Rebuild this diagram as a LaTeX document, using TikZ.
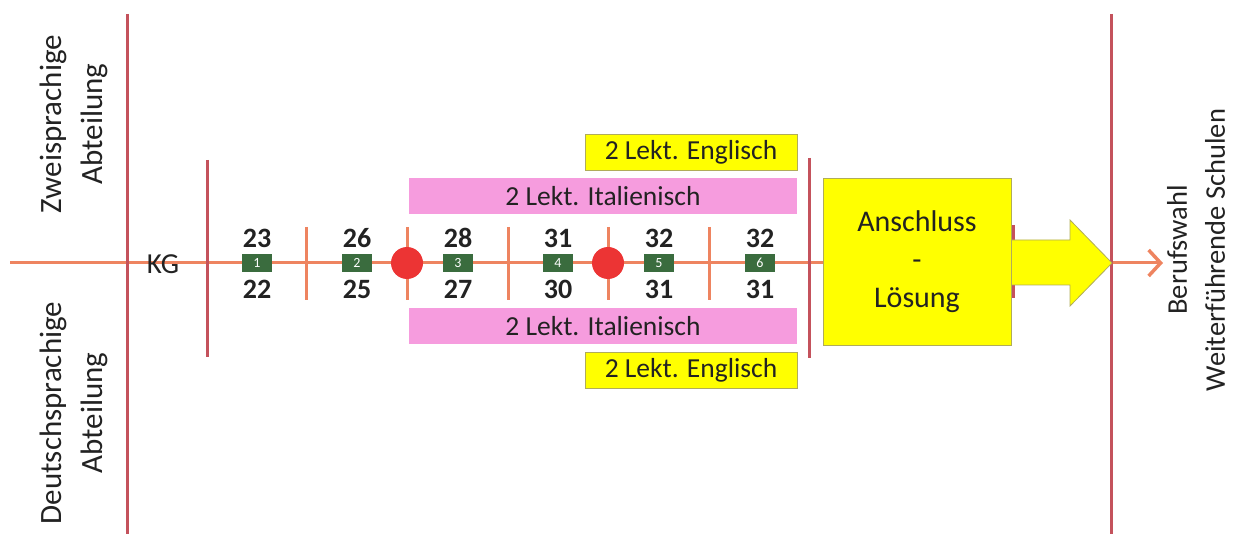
\documentclass[tikz,border=0pt]{standalone}
\usepackage{fontspec}
\setmainfont{Carlito}
\usetikzlibrary{arrows.meta}
\definecolor{vline}{RGB}{196,82,92}
\definecolor{oline}{RGB}{238,132,96}
\definecolor{rdot}{RGB}{236,52,52}
\definecolor{gbox}{RGB}{58,108,62}
\definecolor{pinkb}{RGB}{246,156,222}
\definecolor{yelb}{RGB}{255,255,0}
\definecolor{yelbd}{RGB}{176,172,90}
\definecolor{txt}{RGB}{34,34,34}
\tikzset{
  vbar/.style={draw=vline,line width=3pt},
  tick/.style={draw=oline,line width=3pt},
  mainline/.style={draw=oline,line width=3pt},
  dotnode/.style={circle,fill=rdot,minimum size=32pt,inner sep=0pt},
  gnode/.style={fill=gbox,minimum width=30pt,minimum height=18pt,inner sep=0pt,text=white,font=\fontsize{14}{14}\selectfont},
  numtxt/.style={text=txt,font=\bfseries\fontsize{28}{28}\selectfont,inner sep=0pt},
  pinkbox/.style={fill=pinkb,minimum width=388pt,minimum height=36pt,inner sep=0pt,text=txt,font=\fontsize{27.5}{27.5}\selectfont},
  yelbox/.style={fill=yelb,draw=yelbd,line width=0.8pt,minimum width=212pt,minimum height=36pt,inner sep=0pt,text=txt,font=\fontsize{27.5}{27.5}\selectfont},
  sidetxt/.style={rotate=90,align=center,text=txt,font=\fontsize{31}{41}\selectfont,inner sep=0pt},
}
\begin{document}
\begin{tikzpicture}[x=1pt,y=-1pt]
\useasboundingbox (0,0) rectangle (1236,534);
% main line
\coordinate (mstart) at (10,263);
\coordinate (mend) at (1111,263);
\coordinate (tipend) at (1163,263);
\draw[mainline] (mstart) -- (mend);
\draw[mainline,-{Straight Barb[length=12pt,width=26pt,line width=3.5pt]}] (mend) -- (tipend);
% long vertical lines
\coordinate (l1t) at (127.5,14); \coordinate (l1b) at (127.5,534);
\coordinate (l2t) at (1111.5,14); \coordinate (l2b) at (1111.5,534);
\draw[vbar] (l1t) -- (l1b);
\draw[vbar] (l2t) -- (l2b);
\coordinate (l3t) at (207,160); \coordinate (l3b) at (207,357);
\draw[vbar] (l3t) -- (l3b);
\coordinate (l4t) at (809,158); \coordinate (l4b) at (809,358);
\draw[vbar] (l4t) -- (l4b);
\coordinate (l5t) at (1013,225); \coordinate (l5b) at (1013,298);
\draw[vbar] (l5t) -- (l5b);
% ticks
\foreach \x/\n in {306/a,407/b,508/c,608/d,709/e}{
  \coordinate (t\n t) at (\x,227); \coordinate (t\n b) at (\x,300);
  \draw[tick] (t\n t) -- (t\n b);
}
% red dots
\node[dotnode] (dot1) at (407,263) {};
\node[dotnode] (dot2) at (608,263) {};
% green boxes and numbers
\foreach \x/\k/\u/\d in {257/1/23/22,357/2/26/25,458/3/28/27,558/4/31/30,659/5/32/31,760/6/32/31}{
  \node[gnode] (g\k) at (\x,263) {\k};
  \node[numtxt] (u\k) at (\x,238) {\u};
  \node[numtxt] (d\k) at (\x,289) {\d};
}
% KG
\node[text=txt,font=\fontsize{29}{29}\selectfont,inner sep=0pt] (kg) at (163,264) {KG};
% pink and yellow boxes
\node[pinkbox] (itop) at (603,196) {2 Lekt. Italienisch};
\node[pinkbox] (ibot) at (603,326) {2 Lekt. Italienisch};
\node[yelbox] (etop) at (691,152) {2 Lekt. Englisch};
\node[yelbox] (ebot) at (691,370) {2 Lekt. Englisch};
% big arrow and box
\draw[fill=yelb,draw=yelbd,line width=0.8pt] (1005,240) -- (1070,240) -- (1070,220) -- (1112,263) -- (1070,306) -- (1070,285) -- (1005,285) -- cycle;
\node[fill=yelb,draw=yelbd,line width=0.8pt,minimum width=188pt,minimum height=167pt,inner sep=0pt,align=center,text=txt,font=\fontsize{30}{38}\selectfont] (anschluss) at (917,261.5) {Anschluss\\-\\Lösung};
% side texts
\node[sidetxt] (zwei) at (74,124) {Zweisprachige\\Abteilung};
\node[sidetxt] (deutsch) at (74,413) {Deutschsprachige\\Abteilung};
\node[sidetxt,font=\fontsize{28.5}{38}\selectfont] (beruf) at (1196,250) {Berufswahl\\Weiterführende Schulen};
\end{tikzpicture}
\end{document}
